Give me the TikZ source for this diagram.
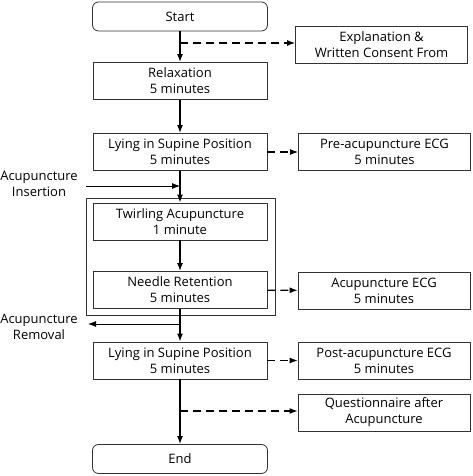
\documentclass[tikz,border=0pt]{standalone}
\usepackage{fontspec}
\setmainfont{Open Sans}
\usetikzlibrary{arrows.meta}

\tikzset{
  box/.style={draw=black!80, line width=0.8pt, minimum width=174pt, minimum height=37pt, align=center, inner sep=1pt, font=\fontsize{13}{16}\selectfont},
  sidebox/.style={box, minimum width=172pt},
  endbox/.style={box, rounded corners=6pt, minimum width=175pt, minimum height=29pt},
  flow/.style={line width=1.4pt, -{Latex[length=8pt,width=6pt]}},
  dflow/.style={line width=1.2pt, dash pattern=on 8pt off 5pt, -{Latex[length=8pt,width=6pt]}},
  thin flow/.style={line width=0.8pt, -{Latex[length=8pt,width=6pt]}},
  sidelabel/.style={align=center, font=\fontsize{13}{16}\selectfont}
}

\begin{document}
\begin{tikzpicture}[x=1pt,y=1pt]
  \useasboundingbox (0,0) rectangle (472,476);

  % Main column
  \node[endbox] (start) at (180,459.5) {Start};
  \node[box] (relax) at (180,395) {Relaxation\\5 minutes};
  \node[box] (lying1) at (180,324) {Lying in Supine Position\\5 minutes};
  \node[box] (twirl) at (180,254.5) {Twirling Acupuncture\\1 minute};
  \node[box] (needle) at (180,186) {Needle Retention\\5 minutes};
  \node[box] (lying2) at (180,115.5) {Lying in Supine Position\\5 minutes};
  \node[endbox] (end) at (180,17) {End};

  % Side boxes
  \node[sidebox] (consent) at (381.5,431.5) {Explanation \&\\Written Consent From};
  \node[sidebox] (preecg) at (384.5,324) {Pre-acupuncture ECG\\5 minutes};
  \node[sidebox] (acuecg) at (384,185.5) {Acupuncture ECG\\5 minutes};
  \node[sidebox] (postecg) at (384,115.5) {Post-acupuncture ECG\\5 minutes};
  \node[sidebox] (quest) at (384,63.5) {Questionnaire after\\Acupuncture};

  % Frame round the acupuncture steps
  \draw[draw=black!80, line width=0.8pt] (86,161) rectangle (275,278);

  % Labels on the left
  \node[sidelabel] (insert) at (39,292) {Acupuncture\\Insertion};
  \node[sidelabel] (remove) at (39,149) {Acupuncture\\Removal};

  % Points on the main line
  \coordinate (c1) at (180,433);
  \coordinate (c2) at (180,290);
  \coordinate (c3) at (180,152);
  \coordinate (c4) at (180,65);
  \coordinate (inL) at (86,290);
  \coordinate (outL) at (88,152);

  % Main arrows
  \draw[flow] (start) -- (relax);
  \draw[flow] (relax) -- (lying1);
  \draw[flow] (lying1) -- (twirl);
  \draw[flow] (twirl) -- (needle);
  \draw[flow] (needle) -- (lying2);
  \draw[flow] (lying2) -- (end);

  % Insertion and removal
  \draw[thin flow] (inL) -- (c2);
  \draw[thin flow] (c3) -- (outL);

  % Dashed branches
  \draw[dflow] (c1) -- (consent.west |- c1);
  \draw[dflow] (lying1) -- (preecg);
  \draw[dflow] (needle) -- (acuecg);
  \draw[dflow] (lying2) -- (postecg);
  \draw[dflow] (c4) -- (quest.west |- c4);
\end{tikzpicture}
\end{document}
